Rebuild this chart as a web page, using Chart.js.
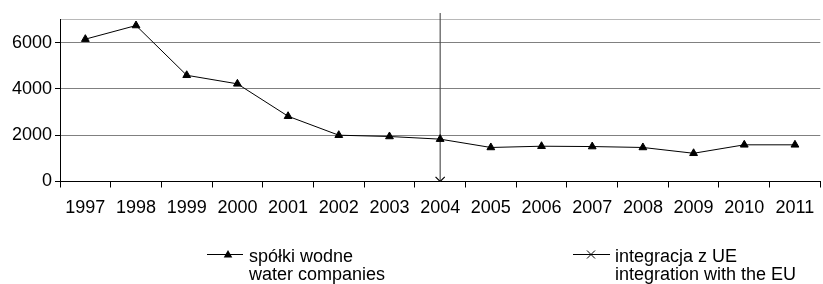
<!DOCTYPE html>
<html><head><meta charset="utf-8">
<script src="https://cdn.jsdelivr.net/npm/chart.js@4.4.1/dist/chart.umd.min.js"></script>
<style>
html,body{margin:0;padding:0;background:#fff;overflow:hidden;width:823px;height:284px;}
#wrap{position:relative;width:823px;height:284px;overflow:hidden;background:#fff;}
#cv{position:absolute;left:0;top:0;}
.leg{position:absolute;font-family:"Liberation Sans",Arial,sans-serif;font-size:18px;line-height:18.5px;color:#000;white-space:nowrap;}
svg{position:absolute;left:0;top:0;}
</style></head><body>
<div id="wrap">
<canvas id="cv" width="828" height="222"></canvas>
<svg width="823" height="284">
  <line x1="207" y1="254.5" x2="243" y2="254.5" stroke="#000" stroke-width="1"/>
  <polygon points="228,250 232.3,257.5 223.7,257.5" fill="#000"/>
  <line x1="573" y1="254.5" x2="610" y2="254.5" stroke="#000" stroke-width="1"/>
  <line x1="587" y1="250.5" x2="595" y2="258.5" stroke="#000" stroke-width="1"/>
  <line x1="595" y1="250.5" x2="587" y2="258.5" stroke="#000" stroke-width="1"/>
</svg>
<div class="leg" style="left:249px;top:246.5px">spółki wodne<br>water companies</div>
<div class="leg" style="left:615px;top:246.5px">integracja z UE<br>integration with the EU</div>
</div>
<script>
const years = ['1997','1998','1999','2000','2001','2002','2003','2004','2005','2006','2007','2008','2009','2010','2011'];
const waterCompanies = [6150, 6740, 4590, 4220, 2820, 2000, 1945, 1830, 1470, 1525, 1510, 1470, 1220, 1585, 1585];
const integrationYear = '2004';
const integrationValue = 0;
const integrationLineTop = 7280;
const yTicks = [0, 2000, 4000, 6000];
const yMax = 7000;

const FONT = {family: '"Liberation Sans", Arial, sans-serif', size: 18};

new Chart(document.getElementById('cv'), {
  type: 'line',
  data: {
    labels: years,
    datasets: [
      {
        label: 'spółki wodne',
        data: waterCompanies,
        borderColor: '#000',
        borderWidth: 1,
        pointStyle: 'triangle',
        pointRadius: 4.5,
        pointBackgroundColor: '#000',
        pointBorderColor: '#000',
        pointBorderWidth: 1,
        tension: 0
      },
      {
        label: 'integracja z UE',
        data: years.map(y => y === integrationYear ? integrationValue : null),
        showLine: false,
        pointStyle: 'crossRot',
        pointRadius: 6.5,
        pointBorderColor: '#000',
        pointBorderWidth: 1.2,
        borderColor: '#000'
      },
      {
        label: 'integration line',
        data: [{x: integrationYear, y: integrationValue}, {x: integrationYear, y: integrationLineTop}],
        borderColor: '#333',
        borderWidth: 1,
        pointRadius: 0,
        clip: false
      }
    ]
  },
  options: {
    responsive: false,
    animation: false,
    layout: {padding: {top: 19.5, left: 0, right: 0, bottom: 0}},
    plugins: {legend: {display: false}, tooltip: {enabled: false}},
    scales: {
      x: {
        offset: true,
        grid: {offset: true, drawOnChartArea: false, drawTicks: true, tickLength: 6, color: '#000'},
        border: {color: '#000'},
        ticks: {font: FONT, color: '#000', padding: 10, maxRotation: 0, autoSkip: false},
        afterFit: s => { s.height = 40.5; }
      },
      y: {
        min: 0, max: yMax,
        afterBuildTicks: s => { s.ticks = [...yTicks, yMax].map(v => ({value: v})); },
        grid: {
          color: c => c.tick.value === yMax ? '#b8b8b8' : (c.tick.value === 0 ? '#000' : '#808080'),
          tickColor: c => c.tick.value === yMax ? 'rgba(0,0,0,0)' : '#000',
          tickLength: 5
        },
        border: {color: '#000'},
        ticks: {font: FONT, color: '#000', padding: 3, callback: v => v === yMax ? '' : String(v)},
        afterFit: s => { s.width = 60; }
      }
    }
  }
});
</script>
</body></html>
